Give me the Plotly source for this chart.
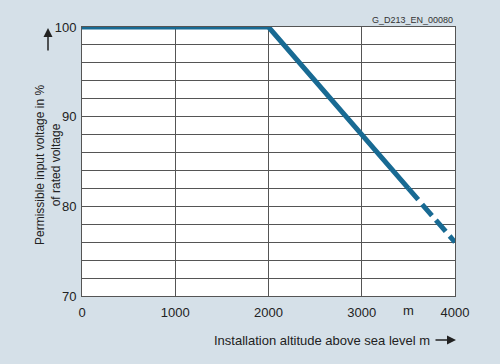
import plotly.graph_objects as go

altitude = [0, 2000, 3500, 4000]
voltage = [100, 100, 82, 76]
x_ticks = [0, 1000, 2000, 3000, 4000]
y_labels = [70, 80, 90, 100]
y_grid = list(range(70, 101, 2))

line_color = "#186a93"
bg = "#d5e0e8"
grid = "#555555"
font = "Liberation Sans, Arial, sans-serif"

fig = go.Figure()
fig.add_trace(go.Scatter(x=altitude[:3], y=voltage[:3], mode="lines",
                         line=dict(color=line_color, width=5), showlegend=False))
fig.add_trace(go.Scatter(x=altitude[2:], y=voltage[2:], mode="lines",
                         line=dict(color=line_color, width=5, dash="15px,6px"), showlegend=False))

fig.update_layout(
    width=500, height=364,
    margin=dict(l=82, r=45, t=27, b=68),
    paper_bgcolor=bg, plot_bgcolor="white",
    font=dict(family=font, size=13, color="#222"),
    xaxis=dict(range=[0, 4000], tickvals=x_ticks, ticktext=[str(v) for v in x_ticks],
               showgrid=True, gridcolor=grid, gridwidth=1, zeroline=False,
               showline=True, linecolor=grid, linewidth=1, mirror=True,
               ticks="outside", ticklen=4, tickcolor="rgba(0,0,0,0)",
               tickfont=dict(size=13)),
    yaxis=dict(range=[70, 100], tickvals=y_grid,
               ticktext=[str(v) if v in y_labels else "" for v in y_grid],
               showgrid=True, gridcolor=grid, gridwidth=1, zeroline=False,
               showline=True, linecolor=grid, linewidth=1, mirror=True,
               ticks="outside", ticklen=2, tickcolor="rgba(0,0,0,0)",
               tickfont=dict(size=13)),
)

W, H = 373, 269
def px(xp):
    return (xp - 82) / W
def py(yp):
    return (296 - yp) / H

# Top-right code label
fig.add_annotation(x=1, y=py(20), xref="paper", yref="paper", text="G_D213_EN_00080",
                   showarrow=False, xanchor="right", yanchor="middle",
                   font=dict(size=9, color="#333"))
# Y-axis title
fig.add_annotation(x=px(48), y=py(165), xref="paper", yref="paper",
                   text="Permissible input voltage in %<br>of rated voltage",
                   textangle=-90, showarrow=False, xanchor="center", yanchor="middle",
                   font=dict(size=12, color="#222"))
# Y arrow
fig.add_annotation(x=px(48), y=py(28), xref="paper", yref="paper", text="",
                   showarrow=True, ax=0, ay=24, arrowhead=2, arrowsize=1.2,
                   arrowwidth=1.5, arrowcolor="#222")
# unit "m" on x axis
fig.add_annotation(x=px(408), y=py(310), xref="paper", yref="paper", text="m",
                   showarrow=False, xanchor="center", yanchor="middle",
                   font=dict(size=13, color="#222"))
# X-axis title
fig.add_annotation(x=px(432), y=py(340), xref="paper", yref="paper",
                   text="Installation altitude above sea level m",
                   showarrow=False, xanchor="right", yanchor="middle",
                   font=dict(size=13, color="#222"))
fig.add_annotation(x=px(456), y=py(340), xref="paper", yref="paper", text="",
                   showarrow=True, ax=-22, ay=0, arrowhead=2, arrowsize=1.2,
                   arrowwidth=1.5, arrowcolor="#222")

fig.write_html("out.html", config={"displayModeBar": False},
               post_script="document.body.style.margin='0';document.body.style.overflow='hidden';")
